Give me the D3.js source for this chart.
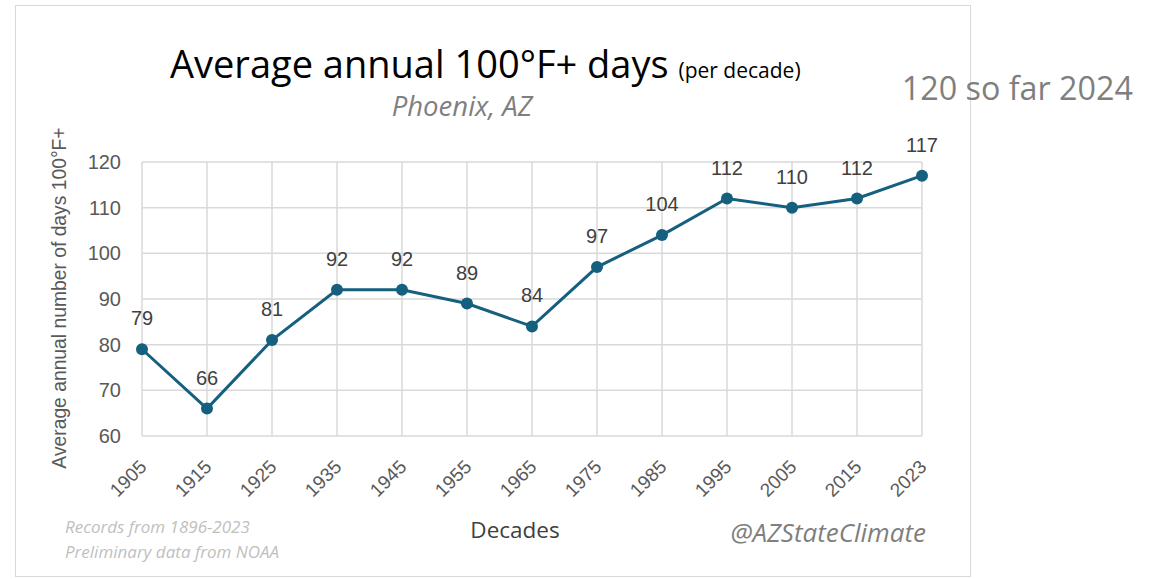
<!DOCTYPE html>
<html lang="en">
<head>
  <meta charset="UTF-8" />
  <title>Average annual 100°F+ days – Phoenix, AZ</title>
  <script src="https://d3js.org/d3.v7.min.js"></script>
  <style>
    body {
      margin: 0;
      background: #fff;
    }
    svg {
      display: block;
    }
  </style>
</head>
<body>
  <svg width="1158" height="579"></svg>

  <script>
    // Data
    const decades = ["1905", "1915", "1925", "1935", "1945", "1955", "1965",
                     "1975", "1985", "1995", "2005", "2015", "2023"];
    const days = [79, 66, 81, 92, 92, 89, 84, 97, 104, 112, 110, 112, 117];
    const yTicks = [60, 70, 80, 90, 100, 110, 120];

    const svg = d3.select("svg");
    const margin = { top: 162, right: 236, bottom: 143, left: 142 };
    const width = 1158 - margin.left - margin.right;
    const height = 579 - margin.top - margin.bottom;

    // outer frame of the chart
    svg.append("rect")
      .attr("x", 15.5).attr("y", 5.5)
      .attr("width", 955).attr("height", 571)
      .attr("fill", "#fff")
      .attr("stroke", "#d9d9d9");

    const chart = svg.append("g")
      .attr("transform", `translate(${margin.left},${margin.top})`);

    const x = d3.scalePoint().domain(decades).range([0, width]);
    const y = d3.scaleLinear().domain([60, 120]).range([height, 0]);

    // gridlines
    chart.append("g")
      .selectAll("line.h")
      .data(yTicks)
      .join("line")
      .attr("x1", 0).attr("x2", width)
      .attr("y1", d => y(d)).attr("y2", d => y(d))
      .attr("stroke", "#d9d9d9").attr("stroke-width", 1.5);

    chart.append("g")
      .selectAll("line.v")
      .data(decades)
      .join("line")
      .attr("x1", d => x(d)).attr("x2", d => x(d))
      .attr("y1", 0).attr("y2", height)
      .attr("stroke", "#d9d9d9").attr("stroke-width", 1.5);

    // y axis
    const yAxis = chart.append("g")
      .call(d3.axisLeft(y).tickValues(yTicks).tickSize(0).tickPadding(21));
    yAxis.select(".domain").remove();
    yAxis.selectAll("text")
      .attr("font-family", "'Liberation Sans', Arial, sans-serif")
      .attr("font-size", 20)
      .attr("fill", "#595959");

    // x axis
    const xAxis = chart.append("g")
      .attr("transform", `translate(0,${height})`)
      .call(d3.axisBottom(x).tickSize(0));
    xAxis.select(".domain").remove();
    xAxis.selectAll("text")
      .attr("font-family", "'Liberation Sans', Arial, sans-serif")
      .attr("font-size", 19)
      .attr("fill", "#595959")
      .attr("text-anchor", "end")
      .attr("dy", 0)
      .attr("transform", "translate(3,30) rotate(-45)");

    // line
    const line = d3.line()
      .x((d, i) => x(decades[i]))
      .y(d => y(d));

    chart.append("path")
      .datum(days)
      .attr("d", line)
      .attr("fill", "none")
      .attr("stroke", "#155f7f")
      .attr("stroke-width", 3);

    chart.selectAll("circle")
      .data(days)
      .join("circle")
      .attr("cx", (d, i) => x(decades[i]))
      .attr("cy", d => y(d))
      .attr("r", 6)
      .attr("fill", "#155f7f");

    // data labels
    chart.selectAll("text.label")
      .data(days)
      .join("text")
      .attr("class", "label")
      .attr("x", (d, i) => x(decades[i]))
      .attr("y", d => y(d) - 24)
      .attr("text-anchor", "middle")
      .attr("font-family", "'Liberation Sans', Arial, sans-serif")
      .attr("font-size", 20)
      .attr("fill", "#404040")
      .text(d => d);

    // titles
    const title = svg.append("text")
      .attr("x", 170).attr("y", 78)
      .attr("font-family", "'Open Sans', 'Noto Sans', sans-serif")
      .attr("fill", "#000");
    title.append("tspan").attr("font-size", 38).text("Average annual 100°F+ days ");
    title.append("tspan").attr("font-size", 21).text("(per decade)");

    svg.append("text")
      .attr("x", 462).attr("y", 116)
      .attr("text-anchor", "middle")
      .attr("font-family", "'Open Sans', 'Noto Sans', sans-serif")
      .attr("font-style", "italic")
      .attr("font-size", 27.5)
      .attr("fill", "#7f7f7f")
      .text("Phoenix, AZ");

    svg.append("text")
      .attr("x", 1133).attr("y", 100)
      .attr("text-anchor", "end")
      .attr("font-family", "'Open Sans', 'Noto Sans', sans-serif")
      .attr("font-size", 32.3)
      .attr("fill", "#7f7f7f")
      .text("120 so far 2024");

    // axis titles
    svg.append("text")
      .attr("transform", "translate(66,298) rotate(-90)")
      .attr("text-anchor", "middle")
      .attr("font-family", "'Liberation Sans', Arial, sans-serif")
      .attr("font-size", 19.3)
      .attr("fill", "#595959")
      .text("Average annual number of days 100°F+");

    svg.append("text")
      .attr("x", 515).attr("y", 538)
      .attr("text-anchor", "middle")
      .attr("font-family", "'Open Sans', 'Noto Sans', sans-serif")
      .attr("font-size", 22.5)
      .attr("fill", "#404040")
      .text("Decades");

    // notes
    const notes = ["Records from 1896-2023", "Preliminary data from NOAA"];
    svg.selectAll("text.note")
      .data(notes)
      .join("text")
      .attr("class", "note")
      .attr("x", 65)
      .attr("y", (d, i) => 533 + i * 25)
      .attr("font-family", "'Open Sans', 'Noto Sans', sans-serif")
      .attr("font-style", "italic")
      .attr("font-size", 17)
      .attr("fill", "#bfbfbf")
      .text(d => d);

    svg.append("text")
      .attr("x", 926).attr("y", 542)
      .attr("text-anchor", "end")
      .attr("font-family", "'Open Sans', 'Noto Sans', sans-serif")
      .attr("font-style", "italic")
      .attr("font-size", 26)
      .attr("fill", "#7f7f7f")
      .text("@AZStateClimate");
  </script>
</body>
</html>
